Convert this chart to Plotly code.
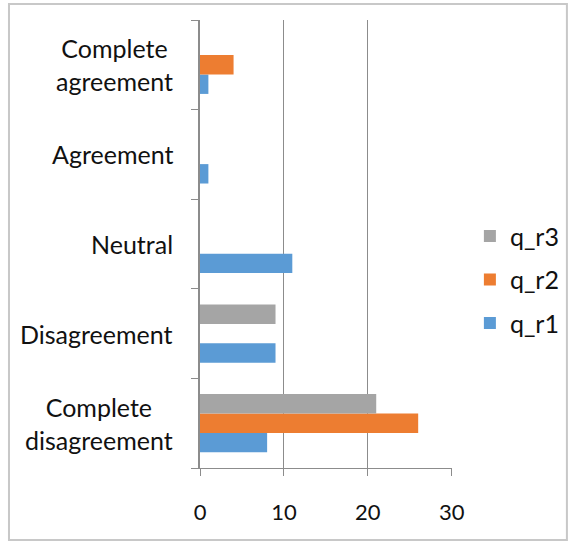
import plotly.graph_objects as go

# Response categories (bottom to top) and counts per question round
categories = ["Complete disagreement", "Disagreement", "Neutral", "Agreement", "Complete agreement"]
category_labels = ["Complete<br>disagreement", "Disagreement", "Neutral", "Agreement", "Complete<br>agreement"]
q_r1 = [8, 9, 11, 1, 1]
q_r2 = [26, 0, 0, 0, 4]
q_r3 = [21, 9, 0, 0, 0]
x_ticks = [0, 10, 20, 30]

# name, values, colour, legend rank (q_r3 listed first in the legend)
series = [("q_r1", q_r1, "#5B9BD5", 3),
          ("q_r2", q_r2, "#ED7D31", 2),
          ("q_r3", q_r3, "#A5A5A5", 1)]

FONT = "Lato"
TXT = "#111111"
GRID = "#8C8C8C"

fig = go.Figure()
for name, vals, fill, rank in series:
    fig.add_trace(go.Bar(
        x=vals, y=categories, name=name, orientation="h",
        legendgroup=name, legendrank=rank,
        marker=dict(color=fill, line=dict(width=0)),
    ))

# Category labels, centred line-by-line beside the value axis
for cat, lab in zip(categories, category_labels):
    fig.add_annotation(
        x=-0.099, xref="paper", y=cat, yref="y",
        text=lab, showarrow=False, xanchor="right", yanchor="middle",
        align="center", font=dict(family=FONT, size=25, color=TXT),
    )

# Outer frame around the whole chart
fig.add_shape(type="rect", xref="paper", yref="paper",
              x0=-0.758, x1=1.456, y0=-0.1607, y1=1.0357,
              line=dict(color="#C8C8C8", width=2), fillcolor="rgba(0,0,0,0)",
              layer="below")

fig.update_layout(
    width=568, height=542,
    margin=dict(l=200, r=116, t=20, b=74, autoexpand=False),
    paper_bgcolor="white", plot_bgcolor="white",
    barmode="group", bargap=0.35, bargroupgap=0,
    showlegend=True,
    legend=dict(
        x=1.071, xanchor="left", y=0.42, yanchor="middle",
        traceorder="grouped", tracegroupgap=8,
        font=dict(family=FONT, size=25, color=TXT),
        bgcolor="rgba(0,0,0,0)",
    ),
    xaxis=dict(
        range=[0, 30.03], tickvals=x_ticks, ticktext=[str(t) for t in x_ticks],
        showgrid=True, gridcolor=GRID, gridwidth=1,
        showline=True, linecolor=GRID, linewidth=1,
        ticks="outside", ticklen=7, tickcolor=GRID,
        ticklabelstandoff=18,
        tickfont=dict(family=FONT, size=22, color=TXT),
        zeroline=False, fixedrange=True,
    ),
    yaxis=dict(
        type="category", categoryorder="array", categoryarray=categories,
        showticklabels=False, showgrid=False,
        showline=True, linecolor=GRID, linewidth=1.5,
        ticks="outside", ticklen=7, tickcolor=GRID, tickson="boundaries",
        zeroline=False, fixedrange=True,
    ),
)

fig.write_html("out.html")
